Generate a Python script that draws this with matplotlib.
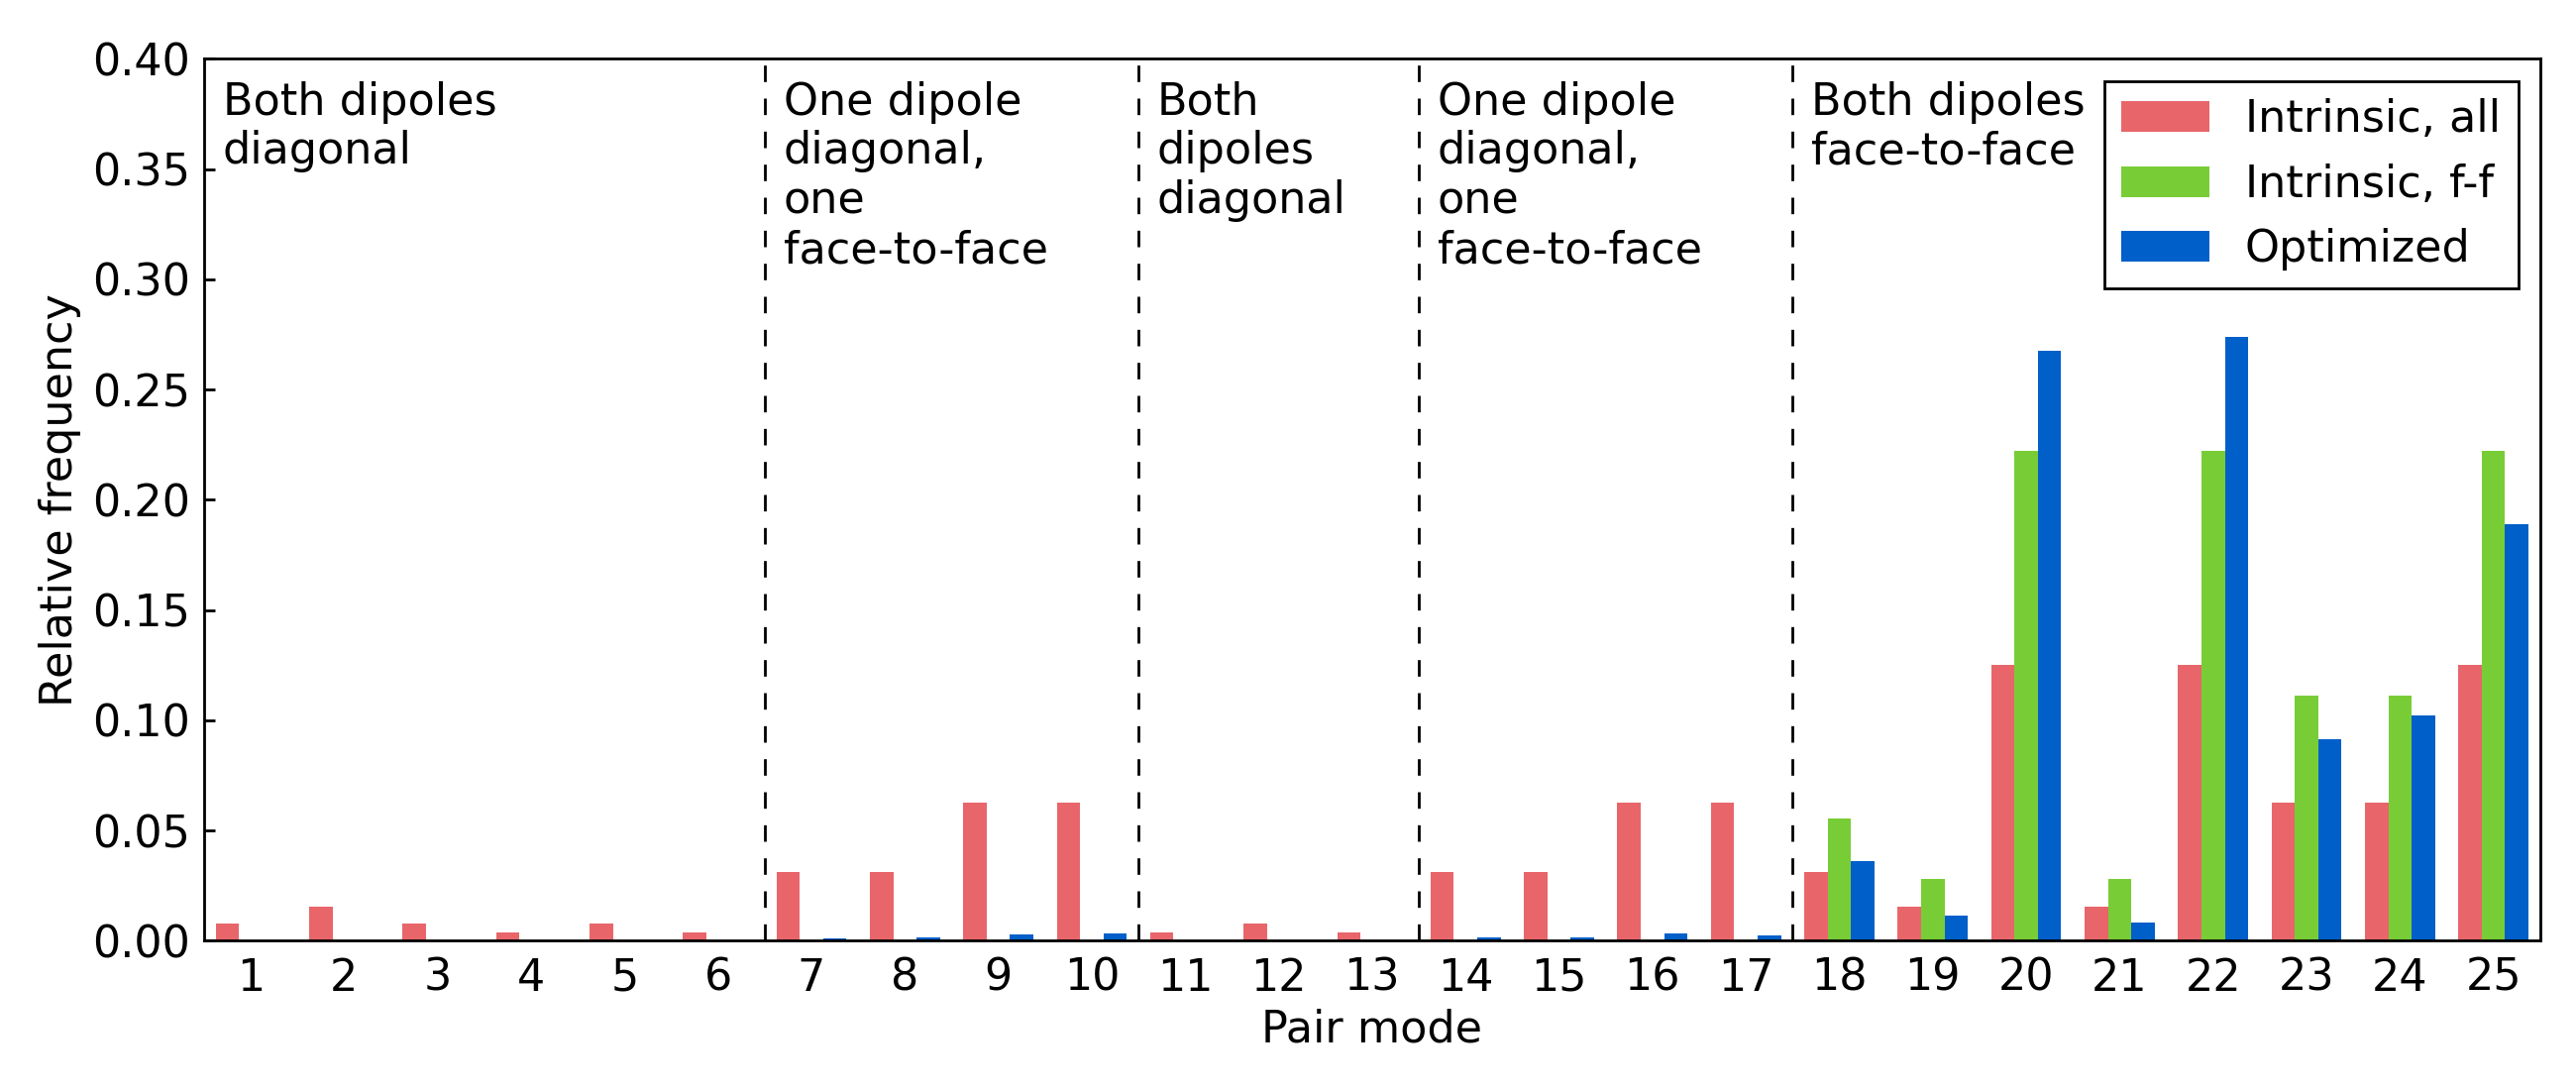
import numpy as np
import matplotlib
matplotlib.use('Agg')
import matplotlib.pyplot as plt

#data
modes = np.arange(1, 26)
intrinsic_all = [0.0078, 0.0156, 0.0078, 0.0039, 0.0078, 0.0039,
                 0.03125, 0.03125, 0.0625, 0.0625,
                 0.0039, 0.0078, 0.0039,
                 0.03125, 0.03125, 0.0625, 0.0625,
                 0.03125, 0.0156, 0.125, 0.0156, 0.125, 0.0625, 0.0625, 0.125]
intrinsic_ff = [0, 0, 0, 0, 0, 0,
                0, 0, 0, 0,
                0, 0, 0,
                0, 0, 0, 0,
                0.0556, 0.0278, 0.2222, 0.0278, 0.2222, 0.1111, 0.1111, 0.2222]
optimized = [0, 0, 0, 0, 0, 0,
             0.0010, 0.0015, 0.0029, 0.0033,
             0, 0, 0,
             0.0015, 0.0015, 0.0033, 0.0024,
             0.0361, 0.0113, 0.2676, 0.0082, 0.2740, 0.0916, 0.1023, 0.1890]

section_edges = [6.5, 10.5, 13.5, 17.5]
section_starts = [0.5, 6.5, 10.5, 13.5, 17.5]
section_labels = ['Both dipoles\ndiagonal',
                  'One dipole\ndiagonal,\none\nface-to-face',
                  'Both\ndipoles\ndiagonal',
                  'One dipole\ndiagonal,\none\nface-to-face',
                  'Both dipoles\nface-to-face']

red = '#E8666A'
green = '#78CD37'
blue = '#005FC9'

plt.rcParams['font.family'] = ['DejaVu Sans']
plt.rcParams['font.size'] = 16

fig = plt.figure(figsize=(13, 5.5), dpi=200)
ax = fig.add_axes([0.0792, 0.137, 0.9069, 0.809])

w = 0.25
ax.bar(modes - w, intrinsic_all, w, color=red, edgecolor='none', label='Intrinsic, all')
ax.bar(modes, intrinsic_ff, w, color=green, edgecolor='none', label='Intrinsic, f-f')
ax.bar(modes + w, optimized, w, color=blue, edgecolor='none', label='Optimized')

for xe in section_edges:
    ax.axvline(xe, color='k', lw=1, linestyle=(0, (6, 6)))

for xs, lab in zip(section_starts, section_labels):
    ax.annotate(lab, xy=(xs + 0.2, 1), xycoords=('data', 'axes fraction'),
                xytext=(0, -8), textcoords='offset points', va='top', ha='left')

ax.set_xlim(0.5, 25.5)
ax.set_ylim(0, 0.4)
ax.set_xticks(modes)
ax.set_yticks(np.arange(0, 0.41, 0.05))
ax.set_yticklabels(['%.2f' % v for v in np.arange(0, 0.41, 0.05)])
ax.tick_params(axis='x', length=0, pad=6)
ax.tick_params(axis='y', direction='in', length=3.8, width=1, pad=5, right=False)
for s in ax.spines.values():
    s.set_linewidth(1)

ax.set_xlabel('Pair mode', labelpad=3)
ax.set_ylabel('Relative frequency', labelpad=4)

leg = ax.legend(loc='upper right', fancybox=False, edgecolor='k', framealpha=1,
                handlelength=2.0, handleheight=0.7, borderaxespad=0.5)
leg.get_frame().set_linewidth(1)

fig.savefig('out.png', dpi=200)
